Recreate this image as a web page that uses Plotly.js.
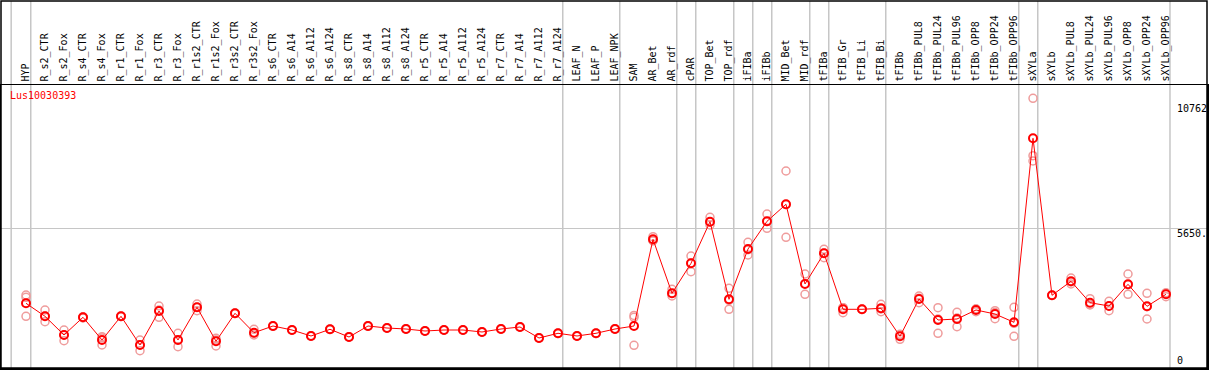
<!DOCTYPE html>
<html>
<head>
<meta charset="utf-8">
<script src="https://cdn.plot.ly/plotly-3.0.1.min.js"></script>
<style>html,body{margin:0;padding:0;background:#fff;}#chart{width:1209px;height:370px;}</style>
</head>
<body>
<div id="chart"></div>
<script>
const categories = ["HYP","R_s2_CTR","R_s2_Fox","R_s4_CTR","R_s4_Fox","R_r1_CTR","R_r1_Fox","R_r3_CTR","R_r3_Fox","R_r1s2_CTR","R_r1s2_Fox","R_r3s2_CTR","R_r3s2_Fox","R_s6_CTR","R_s6_A14","R_s6_A112","R_s6_A124","R_s8_CTR","R_s8_A14","R_s8_A112","R_s8_A124","R_r5_CTR","R_r5_A14","R_r5_A112","R_r5_A124","R_r7_CTR","R_r7_A14","R_r7_A112","R_r7_A124","LEAF_N","LEAF_P","LEAF_NPK","SAM","AR_Bet","AR_rdf","cPAR","TOP_Bet","TOP_rdf","iFIBa","iFIBb","MID_Bet","MID_rdf","tFIBa","tFIB_Gr","tFIB_Li","tFIB_Bi","tFIBb","tFIBb_PUL8","tFIBb_PUL24","tFIBb_PUL96","tFIBb_OPP8","tFIBb_OPP24","tFIBb_OPP96","sXYLa","sXYLb","sXYLb_PUL8","sXYLb_PUL24","sXYLb_PUL96","sXYLb_OPP8","sXYLb_OPP24","sXYLb_OPP96"];

const meanValues = [2597,2067,1305,2026,1101,2067,897,2283,1101,2434,1048,2189,1398,1671,1508,1264,1537,1223,1671,1590,1549,1468,1508,1508,1427,1549,1631,1182,1374,1264,1374,1549,1671,5206,3004,4227,5923,2760,4810,5940,6633,3384,4635,2352,2352,2393,1252,2772,1916,1957,2324,2161,1822,9323,2923,3494,2621,2487,3371,2474,2964];

const rep1 = [2935,2324,1508,2038,1235,2080,1101,2487,1374,2568,1170,2200,1537,1680,1510,1270,1540,1230,1680,1600,1560,1470,1510,1510,1430,1560,1640,1190,1380,1270,1380,1560,2102,5314,3168,4525,6103,3208,5084,6237,7990,3791,4798,2214,2360,2556,1129,2894,2417,2230,2254,2295,2434,10954,2930,3628,2784,2678,3791,3004,3029];
const rep2 = [2841,1847,1072,2038,897,2060,664,2026,828,2295,856,2180,1305,1660,1500,1260,1530,1215,1660,1580,1540,1460,1500,1500,1420,1540,1620,1175,1365,1255,1365,1540,2026,5150,2894,3885,5789,2352,4566,5654,5287,2964,4456,2420,2345,2254,1300,2621,1374,1643,2350,1969,1252,8614,2915,3384,2528,2295,2964,1957,2866];
const rep3 = [2067,2079,1305,1998,1182,2060,897,2324,1101,2434,1101,2189,1374,1672,1512,1262,1540,1225,1672,1590,1548,1470,1508,1506,1430,1548,1632,1180,1378,1266,1376,1548,885,5150,3000,4240,5911,2720,4780,5929,6622,3397,4651,2420,2352,2369,1330,2800,1957,1998,2370,2219,1780,8398,2923,3470,2551,2488,3358,2461,2997];

const groupBoundaries = [-0.78,0.25,28.25,31.25,34.25,35.25,37.25,38.25,39.25,41.25,42.25,45.25,52.25,53.25,60.21];
const yTickLabels = ["10762","5650.","0"];
const yTickValues = [10762,5650,0];
const geneName = "Lus10030393";

const idx = categories.map((c,i)=>i);
const mono = "DejaVu Sans Mono";
const pink = "#ef9c9c";

const repTrace = (vals) => ({
  x: idx, y: vals, type: "scatter", mode: "markers",
  marker: {symbol: "circle-open", size: 8, color: pink, line: {width: 1.5, color: pink}},
  hoverinfo: "skip", showlegend: false
});

const traces = [
  repTrace(rep1), repTrace(rep2), repTrace(rep3),
  {x: idx, y: meanValues, type: "scatter", mode: "lines+markers",
   line: {color: "#ff0000", width: 1},
   marker: {symbol: "circle-open", size: 8, color: "#ff0000", line: {width: 2, color: "#ff0000"}},
   showlegend: false}
];

const plotH = 283;
const topExt = 1 + 84/plotH;

const shapes = groupBoundaries.map(b => ({
  type: "line", xref: "x", yref: "paper", x0: b, x1: b, y0: 0, y1: topExt,
  line: {color: "#c6c6c6", width: 1.5}, layer: "below"
}));
shapes.push({type: "rect", xref: "paper", yref: "paper", x0: 0, x1: 1, y0: 0, y1: topExt,
  line: {color: "#000", width: 1.5}, fillcolor: "rgba(0,0,0,0)"});

const annotations = yTickLabels.map((t,i) => ({
  xref: "paper", yref: "y", x: (1175-1)/1206, y: yTickValues[i], text: t,
  showarrow: false, xanchor: "left", yanchor: i === 2 ? "bottom" : "top",
  font: {family: mono, size: 10, color: "#000"}, xshift: 0, yshift: i === 2 ? -1 : 2
}));
annotations.push({xref: "paper", yref: "paper", x: (8-1)/1206, y: 1 - 3/plotH, text: geneName,
  showarrow: false, xanchor: "left", yanchor: "top", font: {family: mono, size: 10, color: "#ff0000"}});

const layout = {
  width: 1209, height: 370,
  margin: {l: 1, r: 2, t: 85, b: 2, pad: 0},
  paper_bgcolor: "#fff", plot_bgcolor: "#fff",
  showlegend: false,
  xaxis: {
    side: "top", range: [-25/19, -25/19 + 1206/19], tickmode: "array",
    tickvals: idx, ticktext: categories, tickangle: -90,
    tickfont: {family: mono, size: 10, color: "#000"},
    showgrid: false, zeroline: false, ticks: "", showline: true, linecolor: "#000", linewidth: 1.5, mirror: true,
    ticklabelstandoff: 0
  },
  yaxis: {
    range: [-40.8, 11496], tickmode: "array", tickvals: [5650], showticklabels: false,
    showgrid: true, gridcolor: "#c6c6c6", gridwidth: 1.5, zeroline: false, ticks: "",
    showline: true, linecolor: "#000", linewidth: 1.5, mirror: true
  },
  shapes: shapes,
  annotations: annotations
};

Plotly.newPlot("chart", traces, layout, {staticPlot: true, displayModeBar: false});
</script>
</body>
</html>
